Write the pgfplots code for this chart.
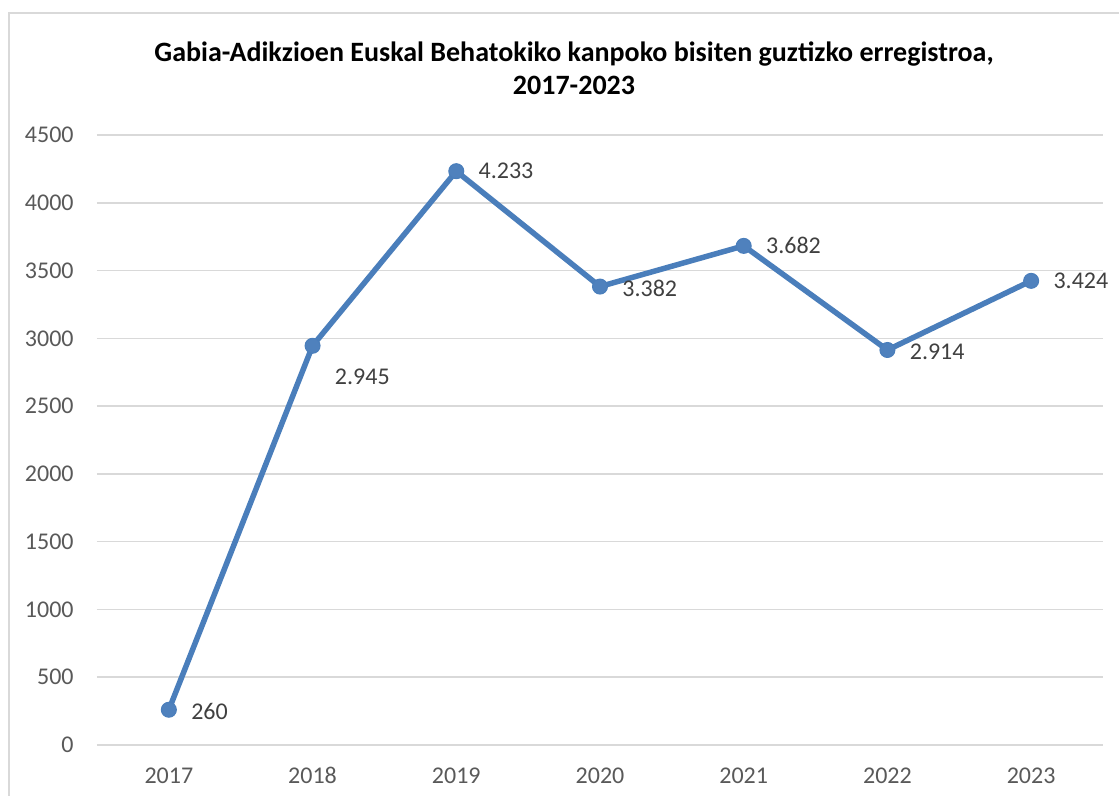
\documentclass[border=0pt]{standalone}
\usepackage{fontspec}
\setmainfont{Carlito}
\usepackage{pgfplots}
\pgfplotsset{compat=1.18}
\usepackage{pgfplotstable}

\definecolor{serie}{HTML}{4A7EBB}
\definecolor{seriefill}{HTML}{4F81BD}
\definecolor{gridgray}{HTML}{D9D9D9}
\definecolor{ticktext}{HTML}{595959}
\definecolor{labeltext}{HTML}{404040}

% year index, visits, label text, vertical label shift (pt)
\pgfplotstableread{
x y lbl dy
0 260 260 -1
1 2945 2.945 -15.5
2 4233 4.233 0
3 3382 3.382 -1
4 3682 3.682 0
5 2914 2.914 -1
6 3424 3.424 0
}\visits

\begin{document}
\begin{tikzpicture}
\clip (-48.5pt,-25.5pt) rectangle (511pt,372.5pt);
\draw[gridgray, line width=0.75pt] (-44pt,-60pt) rectangle (560pt,366pt);
\begin{axis}[
  scale only axis,
  width=503pt, height=305pt,
  xmin=-0.5, xmax=6.5,
  ymin=0, ymax=4500,
  ytick={0,500,...,4500},
  xtick={0,...,6},
  xticklabels={2017,2018,2019,2020,2021,2022,2023},
  axis x line*=bottom,
  axis y line*=left,
  x axis line style={gridgray, line width=0.75pt, -},
  y axis line style={draw=none},
  major tick length=0pt,
  ymajorgrids,
  grid style={gridgray, line width=0.75pt},
  tick label style={font=\fontsize{12}{14}\selectfont, text=ticktext, inner sep=0pt},
  yticklabel style={anchor=east, xshift=-11.5pt},
  xticklabel style={anchor=base, yshift=-19.5pt},
  /pgf/number format/assume math mode=true,
  /pgf/number format/1000 sep={},
  clip=false,
]
\addplot[serie, line width=2.75pt, mark=*, mark size=3.75pt,
  mark options={fill=seriefill, draw=serie, line width=0.5pt}]
  table[x=x, y=y] {\visits};
\addplot[draw=none, mark=none,
  point meta=explicit symbolic,
  nodes near coords,
  visualization depends on={\thisrow{dy} \as \labdy},
  every node near coord/.append style={anchor=west, xshift=11pt, yshift=\labdy pt,
    font=\fontsize{12}{14}\selectfont, text=labeltext, inner sep=0pt}]
  table[x=x, y=y, meta=lbl] {\visits};
\end{axis}
\node[anchor=base, font=\bfseries\fontsize{14}{16}\selectfont] at (238.5pt,341.5pt)
  {Gabia-Adikzioen Euskal Behatokiko kanpoko bisiten guztizko erregistroa,};
\node[anchor=base, font=\bfseries\fontsize{14}{16}\selectfont] at (238.5pt,325pt)
  {2017-2023};
\end{tikzpicture}
\end{document}
